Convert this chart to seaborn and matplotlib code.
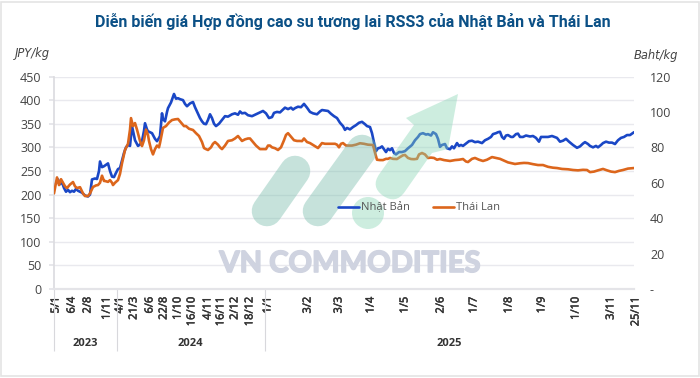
import matplotlib
matplotlib.use("Agg")
import matplotlib.pyplot as plt
import matplotlib.patheffects as pe
import matplotlib.transforms as mtrans
import seaborn as sns
from matplotlib.patches import Circle, PathPatch, Rectangle
from matplotlib.path import Path

# Dữ liệu: phiên (trục thời gian) và giá
phien_nhat = [54,56,58,60,62,64,66,68,70,72,74,76,78,80,82,85,88,90,92,95,97,99,100,102,104,106,108,110,112,114,116,118,120,122,124,126,128,130,132,133,135,138,140,142,144,145,147,148,150,152,155,157,159,160,162,163,165,167,168,171,174,176,178,180,183,185,187,190,193,195,197,200,202,204,206,208,210,212,214,216,219,222,225,228,232,235,238,240,242,245,248,252,256,260,263,266,269,272,274,277,280,283,285,288,291,293,295,298,301,304,307,310,313,317,320,322,325,328,331,334,337,340,343,345,347,350,353,356,359,362,365,367,370,372,373,375,376,378,380,382,384,386,388,390,392,394,396,399,402,405,408,412,415,418,420,423,426,428,431,433,436,438,440,442,445,447,450,452,454,457,459,461,463,466,469,472,475,478,482,485,488,491,493,496,498,500,502,504,506,508,511,513,516,518,520,523,526,530,533,536,539,541,544,548,552,557,560,563,566,569,573,577,580,583,585,588,590,593,596,598,601,603,606,609,612,615,618,621,624,627,630,634]
gia_nhat = [220,224,232,222,226,214,206,210,205,208,206,212,208,206,204,198,196,200,232,234,233,250,270,258,260,263,266,250,238,237,246,254,256,272,288,300,305,303,345,335,315,303,306,313,335,351,338,334,332,330,318,313,320,324,372,360,355,375,383,395,413,403,404,402,400,392,387,393,396,385,376,362,355,350,349,358,370,362,350,345,350,358,366,365,370,372,369,376,372,373,368,366,370,374,377,372,362,364,373,375,374,380,384,381,384,380,383,386,385,392,384,375,372,370,376,379,378,377,371,366,362,352,345,337,341,338,343,347,352,354,349,345,343,330,320,300,292,298,299,302,296,290,297,294,298,288,285,290,290,292,298,305,315,322,328,330,327,328,325,332,328,318,301,305,307,298,296,302,298,309,303,305,303,308,313,314,311,312,309,315,318,322,328,330,332,333,322,318,325,326,322,322,328,329,322,322,325,323,324,320,312,322,322,322,324,320,312,314,318,312,305,299,302,308,311,307,303,300,303,300,305,309,312,310,310,307,315,320,322,326,326,332]
phien_thai = [54,56,57,59,61,63,65,67,70,73,75,77,80,83,85,88,90,93,96,98,100,102,104,105,108,110,112,113,115,118,120,122,124,125,128,130,131,133,135,137,140,142,144,146,148,149,151,153,155,157,159,160,163,166,169,172,175,178,181,184,186,189,193,196,199,202,204,206,208,211,213,215,218,220,222,225,228,232,235,238,240,242,245,248,250,253,256,260,263,266,268,270,272,275,278,281,284,286,288,291,294,297,300,302,304,307,310,314,318,320,322,325,330,335,337,339,341,343,346,349,352,356,360,364,368,373,375,377,380,383,386,388,390,393,397,400,403,405,408,411,414,417,419,422,425,428,431,434,437,440,444,450,455,459,463,466,468,472,475,479,483,487,492,496,500,504,508,512,515,520,524,528,533,538,543,548,553,557,562,568,573,578,583,587,590,594,598,603,607,611,615,619,623,628,634]
gia_thai = [54,60,63,58.7,62,60,58,57,59,60.4,58,57,57.5,54,52.5,52.5,54,57.6,58.5,58.7,60,64,61,61,60.5,61.5,60,58.7,60,61.5,65,71,76,78.5,82,90,96.5,92,93.7,90,83.6,80.7,84,90,87,83.6,79,76,79,81,80,82.4,91,92,94,95.4,95.8,96,94,92,92,90.5,89.8,88,86.4,83,79.6,79,78.5,80,82,83,81.5,80,79,81,83.6,84,85,86.4,85,83.6,84.5,85,85,83,81,79,79,79,81,81,80,79.5,78.5,80,84,87,88,86,84,83.6,83.6,83.5,85,83,82.4,81,79.6,81,82.4,82,82,82,81.5,80,82,82.4,81,81,81,81.5,82.3,82,81.5,81.3,77,73,72.8,72.8,73.5,73.5,74,73.5,73.4,74.5,75.5,75.7,74,73.4,73.3,73.5,76,76.8,76,74,74.2,74,73,73.4,72.8,72.3,72.8,73,73.4,72,71.7,73.5,74,73,72.3,73,74.5,74,73.5,72.5,71.5,71,70.6,71,71.2,71.1,70.5,70,70,69,68.5,68.3,67.8,67.6,67.2,67,67.3,67.2,66,66.3,67,67.8,67,66.3,66,66.7,67.2,68,68.3]

vi_tri_ngay = [54,70,86,105,118,132,148,162,176,190,206,219,233,248,266,306,337,369,403,439,472,507,540,574,609,634]
nhan_ngay = ["5/1","6/4","2/8","1/11","4/1","21/3","6/6","22/8","1/10","16/10","4/11","16/11","2/12","18/12","1/1","3/2","3/3","1/4","1/5","2/6","1/7","1/8","1/9","1/10","3/11","25/11"]
moc_nam = [53.5,116.5,264.5,634]
nam = ["2023","2024","2025"]
vi_tri_nam = [85,190,449]
nhan_phai = ["-","20","40","60","80","100","120"]

sns.set_theme(style="white")
plt.rcParams['font.family'] = ['Open Sans', 'DejaVu Sans']

W, H = 700, 378
fig = plt.figure(figsize=(7, 3.78), dpi=100)
fig.add_artist(Rectangle((0.002, 0.004), 0.996, 0.992, transform=fig.transFigure, fill=False, edgecolor="#e4e4e4", lw=1.2))

ax = fig.add_axes([53.5/W, 1-289/H, (634-53.5)/W, (289-76.5)/H])
sns.lineplot(x=phien_nhat, y=gia_nhat, ax=ax, color="#1a47c6", lw=1.9, errorbar=None, label="Nhật Bản", legend=False)
ax.set_xlim(53.5, 634)
ax.set_ylim(0, 450)
ax.set_yticks(range(0, 451, 50))
ax.grid(axis="y", color="#e9e9ee", lw=1)
ax.set_axisbelow(True)
for s in ["top", "right"]:
    ax.spines[s].set_visible(False)
ax.spines["left"].set_color("#dcdce0")
ax.spines["bottom"].set_color("#e4e4e8")
ax.spines["bottom"].set_linewidth(1.6)
ax.tick_params(axis="y", length=3.6, color="#e4e4e8", pad=5, labelsize=9, labelcolor="#444444")
ax.set_xticks(vi_tri_ngay, nhan_ngay, rotation=90, fontsize=8, color="#333333")
ax.tick_params(axis="x", which="major", length=0, pad=5.5)
# nhãn ngày lệch trái một chút, đẩy lại và làm đậm hơn
dich = mtrans.ScaledTranslation(2/100, 0, fig.dpi_scale_trans)
for nhan in ax.get_xticklabels():
    nhan.set_transform(nhan.get_transform() + dich)
    nhan.set_path_effects([pe.withStroke(linewidth=0.35, foreground="#333333")])
ax.set_xticks(moc_nam, minor=True)
ax.tick_params(axis="x", which="minor", length=44.6, width=0.8, color="#d8d8dc", bottom=True)
for x_nam, ten in zip(vi_tri_nam, nam):
    ax.text(x_nam, -0.255, ten, transform=ax.get_xaxis_transform(), ha="center", va="center", fontsize=8, fontweight="bold", color="#333333")

ax2 = ax.twinx()
sns.lineplot(x=phien_thai, y=gia_thai, ax=ax2, color="#dc661c", lw=1.9, errorbar=None, label="Thái Lan", legend=False)
ax2.set_ylim(0, 120)
ax2.set_xlim(53.5, 634)
ax2.set_yticks(range(0, 121, 20), nhan_phai)
ax2.set_ylabel("")
ax2.tick_params(axis="y", length=0, pad=11.5, labelsize=9, labelcolor="#444444")
for s in ax2.spines.values():
    s.set_visible(False)

# Watermark phủ lên trên các đường
wm = fig.add_axes([0, 0, 1, 1], zorder=3)
wm.set_xlim(0, W)
wm.set_ylim(H, 0)
wm.axis("off")
wm.patch.set_alpha(0)
wm_teal = "#77bcab"
wm_xanh = "#88d6b5"
for (x0, y0), (x1, y1) in [((267, 211), (295, 171)), ((318, 211), (362, 150))]:
    wm.plot([x0, x1], [y0, y1], color=wm_teal, alpha=0.42, lw=22, solid_capstyle="round")
wm.add_patch(Circle((368, 213), 16, facecolor=wm_xanh, edgecolor="none", alpha=0.42))
# mũi tên: một path duy nhất để màu không bị chồng
dinh = [(379.3, 174.1), (414, 125), (406, 118), (458, 94), (448, 149), (432, 153), (404.7, 191.9),
        (395.8, 204.6), (383, 195.7), (370.4, 186.8), (379.3, 174.1)]
ma = [Path.MOVETO] + [Path.LINETO]*6 + [Path.CURVE3]*4
wm.add_patch(PathPatch(Path(dinh, ma), facecolor=wm_xanh, edgecolor="none", alpha=0.42))
wm.text(350, 264, "VN COMMODITIES", family="Lato", fontweight="bold", fontsize=21, color="#cfd3e0", ha="center", va="center",
        path_effects=[pe.withStroke(linewidth=1.2, foreground="#cfd3e0")])

handles = [ax.get_lines()[0], ax2.get_lines()[0]]
fig.legend(handles, ["Nhật Bản", "Thái Lan"], ncol=2, loc="center", bbox_to_anchor=(419/W, 1-208/H), frameon=False,
           fontsize=8, labelcolor="#555555", handlelength=1.9, columnspacing=2.08, handletextpad=0.2, borderpad=0).set_zorder(5)

fig.text(353/W, 1-21/H, "Diễn biến giá Hợp đồng cao su tương lai RSS3 của Nhật Bản và Thái Lan", family="Roboto", fontweight="bold", fontsize=11.55, color="#0b5086", ha="center", va="center")
fig.text(15/W, 1-53/H, "JPY/kg", family="DejaVu Sans", style="italic", fontsize=8.3, color="#444444", ha="left", va="center")
fig.text(634/W, 1-55/H, "Baht/kg", family="DejaVu Sans", style="italic", fontsize=8.3, color="#444444", ha="left", va="center")

fig.savefig("out.png", dpi=100)
